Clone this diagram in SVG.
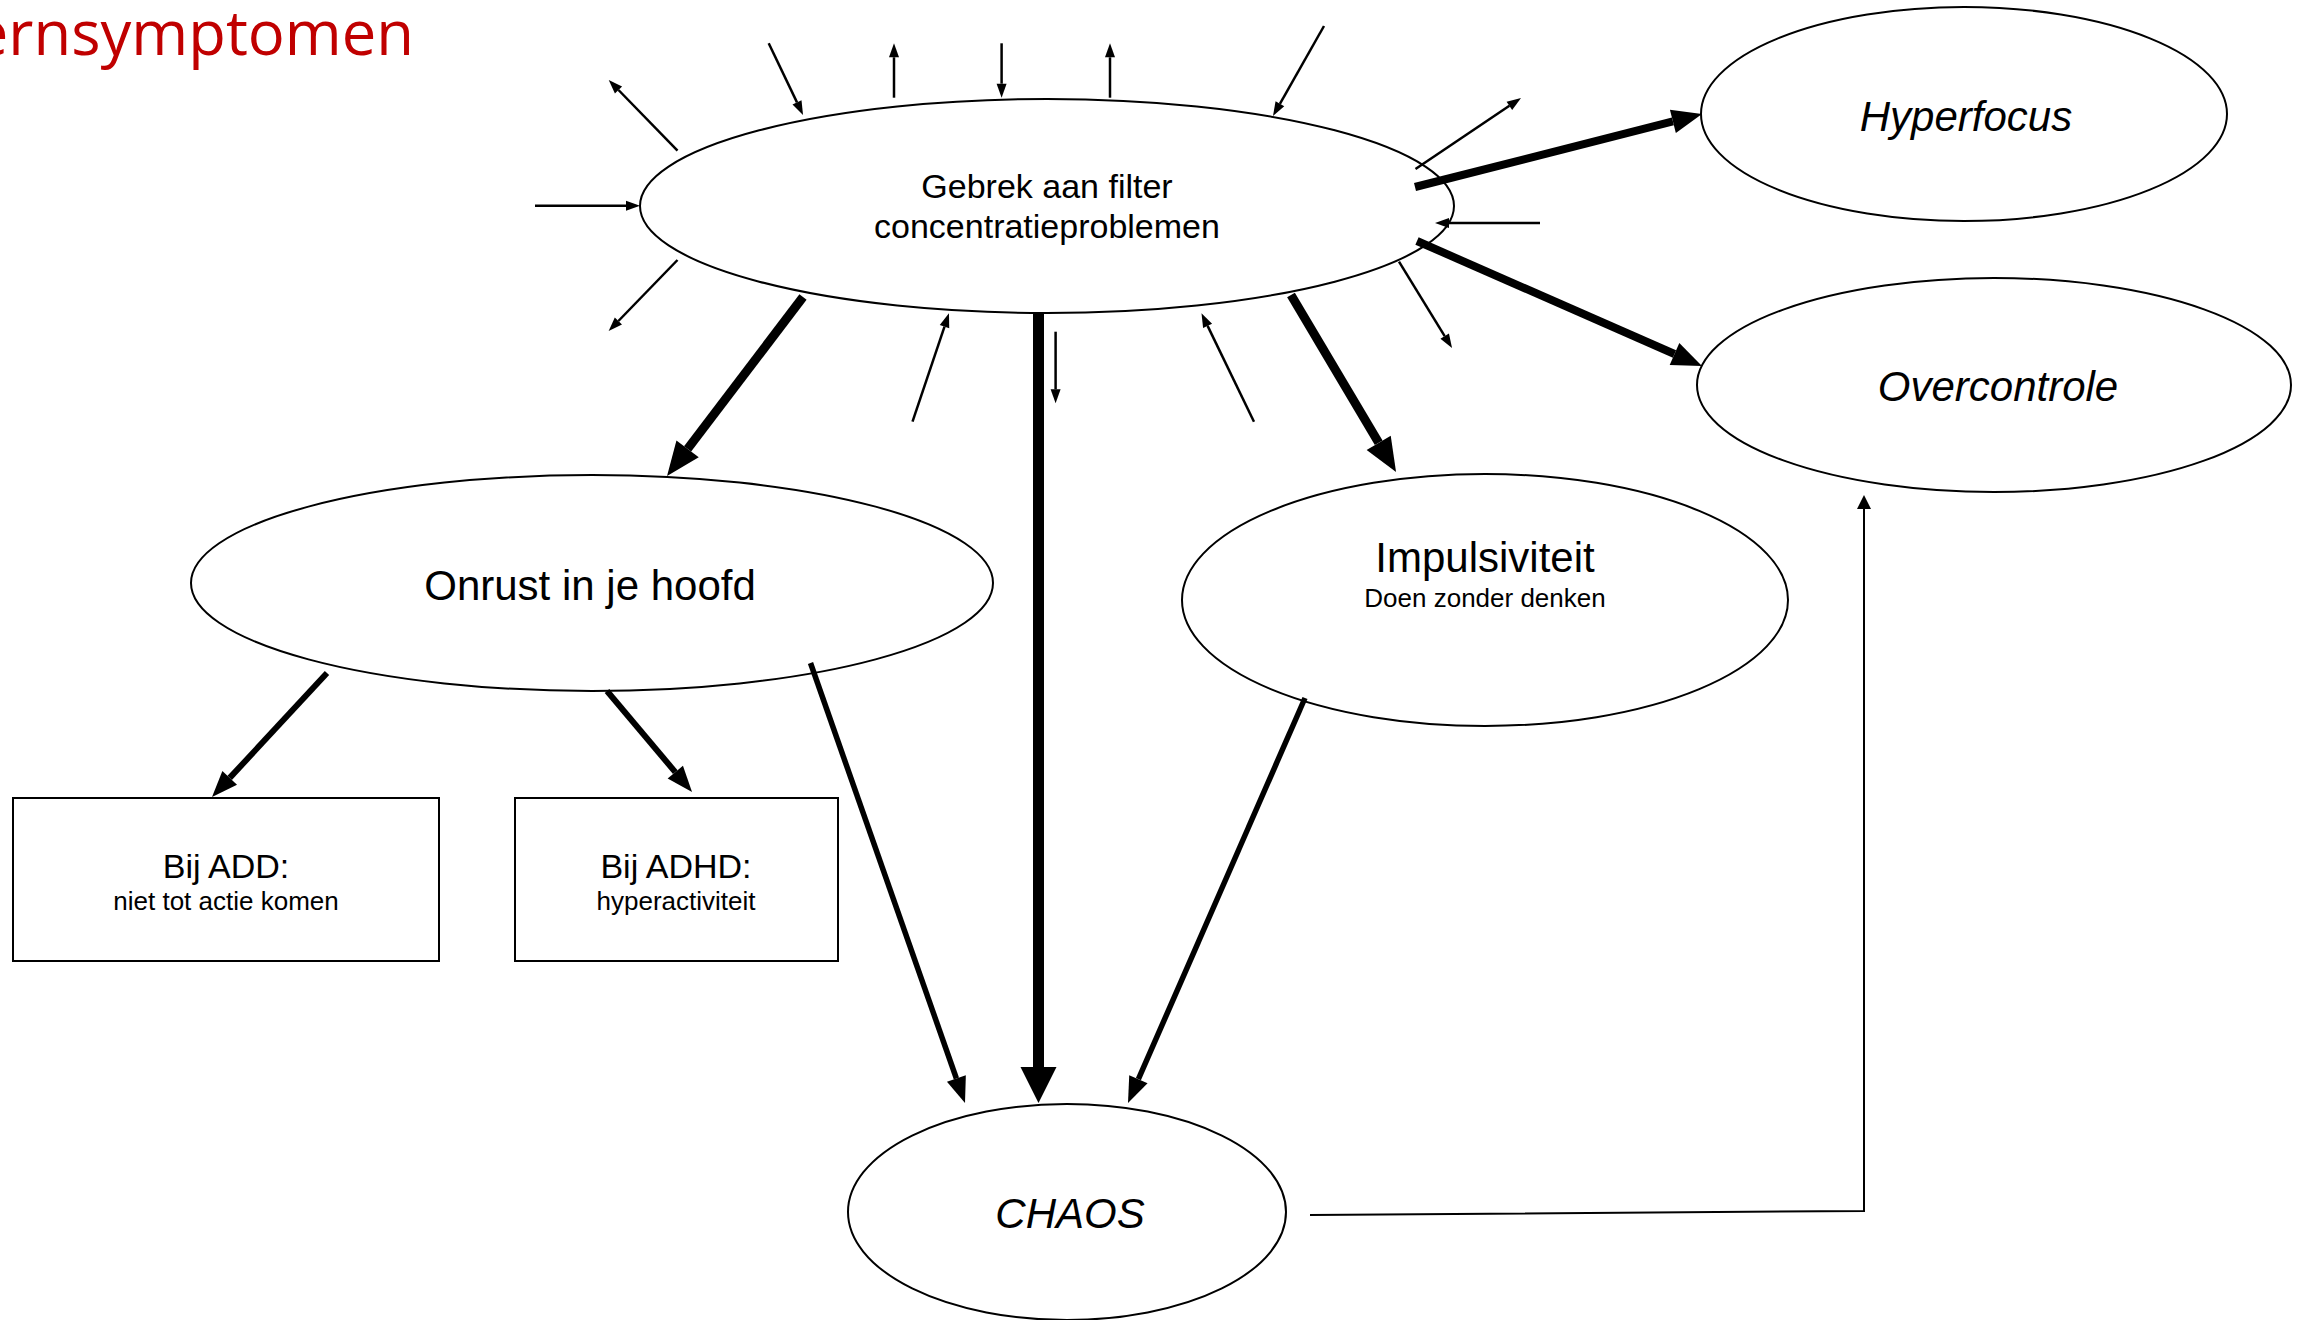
<svg xmlns="http://www.w3.org/2000/svg" width="2305" height="1320" viewBox="0 0 2305 1320">
<style>
.node{fill:#fff;stroke:#000;stroke-width:2}
.t{font-family:"Liberation Sans",Arial,sans-serif;fill:#000;text-anchor:middle}
.it{font-style:italic}
.c{fill:none;stroke:#000;stroke-linecap:butt}
.thin{stroke-width:2.5}
.title{font-family:"Open Sans","Noto Sans",sans-serif;fill:#C00000;font-size:61.5px;text-anchor:end}
</style>
<defs>
<marker id="ahxl" markerUnits="userSpaceOnUse" orient="auto" refX="0" refY="0" markerWidth="40" markerHeight="40" overflow="visible"><path d="M0,-18 L36,0 L0,18 Z" fill="#000"/></marker>
<marker id="ahl" markerUnits="userSpaceOnUse" orient="auto" refX="0" refY="0" markerWidth="40" markerHeight="40" overflow="visible"><path d="M0,-14 L34,0 L0,14 Z" fill="#000"/></marker>
<marker id="ahh" markerUnits="userSpaceOnUse" orient="auto" refX="0" refY="0" markerWidth="40" markerHeight="40" overflow="visible"><path d="M0,-12 L30,0 L0,12 Z" fill="#000"/></marker>
<marker id="ahm" markerUnits="userSpaceOnUse" orient="auto" refX="0" refY="0" markerWidth="40" markerHeight="40" overflow="visible"><path d="M0,-10 L26,0 L0,10 Z" fill="#000"/></marker>
<marker id="ahs" markerUnits="userSpaceOnUse" orient="auto" refX="0" refY="0" markerWidth="20" markerHeight="20" overflow="visible"><path d="M0,-5 L14,0 L0,5 Z" fill="#000"/></marker>
<marker id="ahs2" markerUnits="userSpaceOnUse" orient="auto" refX="0" refY="0" markerWidth="20" markerHeight="20" overflow="visible"><path d="M0,-7 L14,0 L0,7 Z" fill="#000"/></marker>
</defs>
<rect width="2305" height="1320" fill="#fff"/>
<text class="title" x="414" y="55">ernsymptomen</text>

<g id="n-main"><ellipse class="node" cx="1047" cy="206" rx="407" ry="107"/>
<text class="t" x="1047" y="198" font-size="34">Gebrek aan filter</text>
<text class="t" x="1047" y="238" font-size="34">concentratieproblemen</text></g>
<g id="n-hyperfocus"><ellipse class="node" cx="1964" cy="114" rx="263" ry="107"/>
<text class="t it" x="1966" y="131" font-size="42">Hyperfocus</text></g>
<g id="n-overcontrole"><ellipse class="node" cx="1994" cy="385" rx="297" ry="107"/>
<text class="t it" x="1998" y="401" font-size="42">Overcontrole</text></g>
<g id="n-onrust"><ellipse class="node" cx="592" cy="583" rx="401" ry="108"/>
<text class="t" x="590" y="600" font-size="42">Onrust in je hoofd</text></g>
<g id="n-impuls"><ellipse class="node" cx="1485" cy="600" rx="303" ry="126"/>
<text class="t" x="1485" y="572" font-size="42">Impulsiviteit</text>
<text class="t" x="1485" y="607" font-size="26">Doen zonder denken</text></g>
<g id="n-chaos"><ellipse class="node" cx="1067" cy="1212" rx="219" ry="108"/>
<text class="t it" x="1070" y="1228" font-size="42">CHAOS</text></g>
<g id="n-add"><rect class="node" x="13" y="798" width="426" height="163"/>
<text class="t" x="226" y="878" font-size="34">Bij ADD:</text>
<text class="t" x="226" y="910" font-size="26">niet tot actie komen</text></g>
<g id="n-adhd"><rect class="node" x="515" y="798" width="323" height="163"/>
<text class="t" x="676" y="878" font-size="34">Bij ADHD:</text>
<text class="t" x="676" y="910" font-size="26">hyperactiviteit</text></g>

<g id="connectors">
<path class="c" stroke-width="9" d="M803,297 L687.6,448.9" marker-end="url(#ahl)"/>
<path class="c" stroke-width="11" d="M1038.5,313 L1038.5,1067" marker-end="url(#ahxl)"/>
<path class="c" stroke-width="9" d="M1291,295 L1378.7,442.8" marker-end="url(#ahl)"/>
<path class="c" stroke-width="8" d="M1415,187 L1672.9,121.4" marker-end="url(#ahh)"/>
<path class="c" stroke-width="8" d="M1417,241 L1674.5,354" marker-end="url(#ahh)"/>
<path class="c" stroke-width="6" d="M327,673 L229.7,777.9" marker-end="url(#ahm)"/>
<path class="c" stroke-width="6" d="M607,691 L675.3,772.1" marker-end="url(#ahm)"/>
<path class="c" stroke-width="5.5" d="M810.5,663 L956.4,1078.5" marker-end="url(#ahm)"/>
<path class="c" stroke-width="5.5" d="M1305,698 L1138.4,1079.2" marker-end="url(#ahm)"/>
<path class="c" stroke-width="2" d="M1310,1215 L1864,1211 L1864,509" marker-end="url(#ahs2)"/>
<path class="c thin" d="M677.5,150.7 L618.5,90" marker-end="url(#ahs)"/>
<path class="c thin" d="M768.7,43.3 L797,102.4" marker-end="url(#ahs)"/>
<path class="c thin" d="M894,97.7 L894,57.3" marker-end="url(#ahs)"/>
<path class="c thin" d="M1001.6,43.3 L1001.6,83.7" marker-end="url(#ahs)"/>
<path class="c thin" d="M1110,97.7 L1110,57.3" marker-end="url(#ahs)"/>
<path class="c thin" d="M1324,26 L1279.9,103.8" marker-end="url(#ahs)"/>
<path class="c thin" d="M535,205.7 L626,205.7" marker-end="url(#ahs)"/>
<path class="c thin" d="M677.5,260 L618.4,321" marker-end="url(#ahs)"/>
<path class="c thin" d="M912.5,421.7 L944.5,326.6" marker-end="url(#ahs)"/>
<path class="c thin" d="M1055.6,331.7 L1055.6,389.3" marker-end="url(#ahs)"/>
<path class="c thin" d="M1254,421.7 L1207.6,325.9" marker-end="url(#ahs)"/>
<path class="c thin" d="M1399,261.7 L1444.7,336.1" marker-end="url(#ahs)"/>
<path class="c thin" d="M1415.5,169 L1509.4,105.8" marker-end="url(#ahs)"/>
<path class="c thin" d="M1540,223 L1449,223" marker-end="url(#ahs)"/>
</g>
</svg>
